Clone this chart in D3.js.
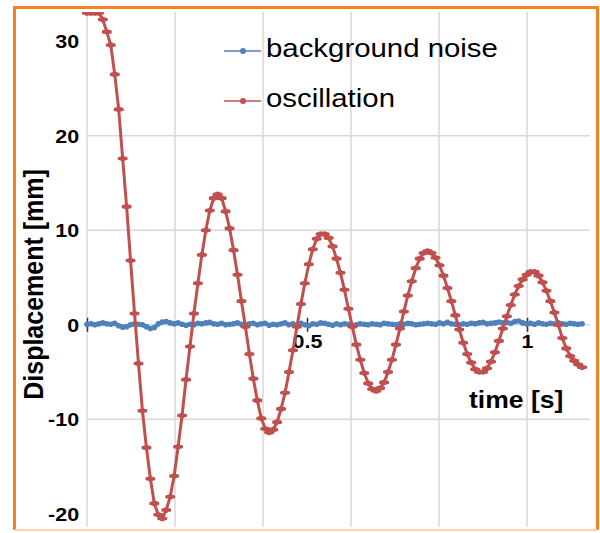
<!DOCTYPE html>
<html>
<head>
<meta charset="utf-8">
<script src="https://cdn.jsdelivr.net/npm/d3@7"></script>
<style>
  body { margin: 0; background: #fff; }
  svg text { font-family: "Liberation Sans", Arial, sans-serif; fill: #000; }
</style>
</head>
<body>
<svg id="chart" width="600" height="533"></svg>
<script>
// --- Data ---
const sampleStep = 0.009; // seconds between two samples
const seriesNames = ["background noise", "oscillation"];

const noiseValues = [
  0.05, 0.1, 0.0, 0.1, 0.2, 0.1, 0.05, 0.15, -0.1, -0.25,
  -0.2, 0.0, 0.1, 0.05, 0.0, -0.2, -0.4, -0.3, 0.1, 0.3,
  0.35, 0.2, 0.1, 0.2, 0.05, -0.05, 0.05, 0.0, 0.15, 0.1,
  0.2, 0.25, 0.1, 0.05, 0.15, 0.0, 0.05, 0.1, 0.2, 0.05,
  0.0, 0.1, 0.15, 0.0, 0.1, 0.15, -0.05, 0.05, 0.0, 0.1,
  0.2, 0.0, 0.1, -0.05, 0.15, 0.0, -0.1, 0.1, 0.05, 0.2,
  0.15, 0.05, -0.05, 0.1, 0.0, 0.1, 0.05, -0.05, 0.0, 0.1,
  0.05, 0.0, 0.1, 0.05, 0.0, 0.15, 0.1, 0.05, 0.0, 0.1,
  0.05, 0.15, 0.1, 0.0, 0.05, 0.1, 0.15, 0.1, 0.05, 0.2,
  0.1, 0.25, 0.1, 0.05, 0.0, 0.1, 0.05, 0.15, 0.1, 0.2,
  0.25, 0.1, 0.15, 0.2, 0.3, 0.2, 0.25, 0.15, 0.35, 0.4,
  0.2, 0.1, 0.15, 0.05, 0.2, 0.1, 0.05, 0.15, 0.1, 0.2,
  0.1, 0.05, 0.15, 0.1, 0.05, 0.1
];

const oscillationValues = [
  33.0, 33.0, 33.0, 33.0, 32.3, 31.0, 29.6, 26.5, 22.8, 17.6,
  12.5, 6.8, 1.2, -4.1, -9.1, -13.0, -16.3, -18.9, -20.1, -20.5,
  -19.6, -18.2, -16.0, -12.9, -9.6, -5.8, -2.3, 1.2, 4.4, 7.4,
  10.0, 12.1, 13.4, 13.8, 13.4, 12.0, 10.2, 7.9, 5.3, 2.5,
  -0.2, -3.1, -5.7, -8.0, -9.9, -11.0, -11.4, -11.1, -10.3, -8.9,
  -7.2, -5.0, -2.7, -0.2, 2.2, 4.4, 6.4, 8.0, 9.1, 9.6,
  9.6, 9.2, 8.3, 7.0, 5.5, 3.7, 1.7, -0.2, -2.1, -3.7,
  -5.1, -6.2, -6.8, -7.0, -6.7, -6.1, -5.0, -3.7, -2.1, -0.4,
  1.4, 3.1, 4.6, 6.0, 7.0, 7.6, 7.8, 7.6, 7.1, 6.3,
  5.2, 3.9, 2.5, 1.0, -0.5, -1.9, -3.1, -4.0, -4.7, -5.0,
  -5.0, -4.6, -3.9, -2.9, -1.7, -0.4, 0.9, 2.1, 3.2, 4.1,
  4.8, 5.3, 5.6, 5.6, 5.2, 4.5, 3.6, 2.5, 1.3, 0.0,
  -1.4, -2.5, -3.3, -3.8, -4.2, -4.5
];

const yTicks = [30, 20, 10, 0, -10, -20];
const yGridValues = [20, 10, 0, -10];
const xTicks = [0, 0.5, 1];
const xGridValues = [0, 0.2, 0.4, 0.6, 0.8, 1];

function drawChart() {
  const plot = { left: 87, right: 590, top: 12, bottom: 527 };
  const stretch = 1.13; // the reference text is a bit wider than the fonts
  const blue = "#4f81bd", red = "#c0504d", grid = "#d9d9d9", orange = "#f58220";

  const svg = d3.select("#chart");

  const times = d3.range(oscillationValues.length).map(i => i * sampleStep);
  const noise = times.map((t, i) => ({ t: t, v: noiseValues[i] }));
  const osc = times.map((t, i) => ({ t: t, v: oscillationValues[i] }));

  const x = d3.scaleLinear().domain([0, 1.143]).range([plot.left, plot.right]);
  const y = d3.scaleLinear().domain([-21.4, 33.1]).range([plot.bottom, plot.top]);

  // outer frame
  svg.append("path")
    .attr("d", "M14.5,530 V7.5 H597.5 V530")
    .attr("fill", "none")
    .attr("stroke", orange)
    .attr("stroke-width", 3);
  svg.append("line")
    .attr("x1", 14.5).attr("x2", 597.5).attr("y1", 530).attr("y2", 530)
    .attr("stroke", "#fbd3ad").attr("stroke-width", 2);

  // gridlines
  svg.append("g").selectAll("line")
    .data(xGridValues)
    .enter().append("line")
    .attr("x1", d => x(d)).attr("x2", d => x(d))
    .attr("y1", plot.top).attr("y2", plot.bottom)
    .attr("stroke", grid).attr("stroke-width", 1.5);
  svg.append("g").selectAll("line")
    .data(yGridValues)
    .enter().append("line")
    .attr("x1", plot.left).attr("x2", plot.right)
    .attr("y1", d => y(d)).attr("y2", d => y(d))
    .attr("stroke", grid).attr("stroke-width", 1.5);

  // y axis labels
  const yAxis = svg.append("g")
    .attr("transform", `translate(${plot.left},0)`)
    .call(d3.axisLeft(y).tickValues(yTicks).tickSize(0).tickPadding(7).tickFormat(d => String(d)));
  yAxis.select(".domain").remove();
  yAxis.selectAll("text")
    .attr("dy", "0.35em")
    .attr("transform", `scale(${stretch},1)`)
    .style("font-size", "19px")
    .style("font-weight", "bold");

  // x axis sitting on zero
  const xAxis = svg.append("g")
    .attr("transform", `translate(0,${y(0)})`)
    .call(d3.axisBottom(x).tickValues(xTicks).tickSize(7).tickFormat(d => d === 0 ? "" : String(d)));
  xAxis.select(".domain").remove();
  xAxis.selectAll("line")
    .attr("y1", -7).attr("y2", 7)
    .attr("stroke", "#333").attr("stroke-width", 1.5);
  xAxis.selectAll("text")
    .attr("y", 23).attr("dy", null)
    .attr("transform", `scale(${stretch},1)`)
    .style("font-size", "19px")
    .style("font-weight", "bold");

  // series
  svg.append("clipPath").attr("id", "plot-clip")
    .append("rect")
    .attr("x", plot.left - 6).attr("y", plot.top)
    .attr("width", plot.right - plot.left + 6).attr("height", plot.bottom - plot.top);
  const series = svg.append("g").attr("clip-path", "url(#plot-clip)");
  const line = d3.line().x(d => x(d.t)).y(d => y(d.v));

  series.append("path")
    .datum(noise)
    .attr("d", line)
    .attr("fill", "none")
    .attr("stroke", blue)
    .attr("stroke-width", 4);
  series.append("g").selectAll("circle")
    .data(noise)
    .enter().append("circle")
    .attr("cx", d => x(d.t)).attr("cy", d => y(d.v))
    .attr("r", 2.8)
    .attr("fill", blue);

  series.append("path")
    .datum(osc)
    .attr("d", line)
    .attr("fill", "none")
    .attr("stroke", red)
    .attr("stroke-width", 3);
  const marks = series.append("g").selectAll("g")
    .data(osc)
    .enter().append("g")
    .attr("transform", d => `translate(${x(d.t)},${y(d.v)})`);
  marks.append("rect")
    .attr("x", -5).attr("y", -1.8).attr("width", 10).attr("height", 3.6)
    .attr("rx", 1.5)
    .attr("fill", red);
  marks.append("circle").attr("r", 2.8).attr("fill", red);

  // axis titles
  svg.append("text")
    .attr("transform", `translate(469,408) scale(${stretch},1)`)
    .style("font-size", "23.5px")
    .style("font-weight", "bold")
    .text("time [s]");
  svg.append("text")
    .attr("transform", `translate(43,284.5) scale(${stretch},1) rotate(-90)`)
    .attr("text-anchor", "middle")
    .style("font-size", "25px")
    .style("font-weight", "bold")
    .text("Displacement [mm]");

  // legend
  const legend = svg.append("g").selectAll("g")
    .data(seriesNames)
    .enter().append("g")
    .attr("transform", (d, i) => `translate(0,${57 + i * 50})`);
  legend.append("line")
    .attr("x1", 224).attr("x2", 261).attr("y1", -6).attr("y2", -6)
    .attr("stroke", (d, i) => i === 0 ? blue : red)
    .attr("stroke-width", 1.5);
  legend.append("circle")
    .attr("cx", 243).attr("cy", -6).attr("r", 3)
    .attr("fill", (d, i) => i === 0 ? blue : red);
  legend.append("text")
    .attr("transform", `translate(266,0) scale(${stretch},1)`)
    .style("font-size", "26px")
    .text(d => d);
}

drawChart();
</script>
</body>
</html>
